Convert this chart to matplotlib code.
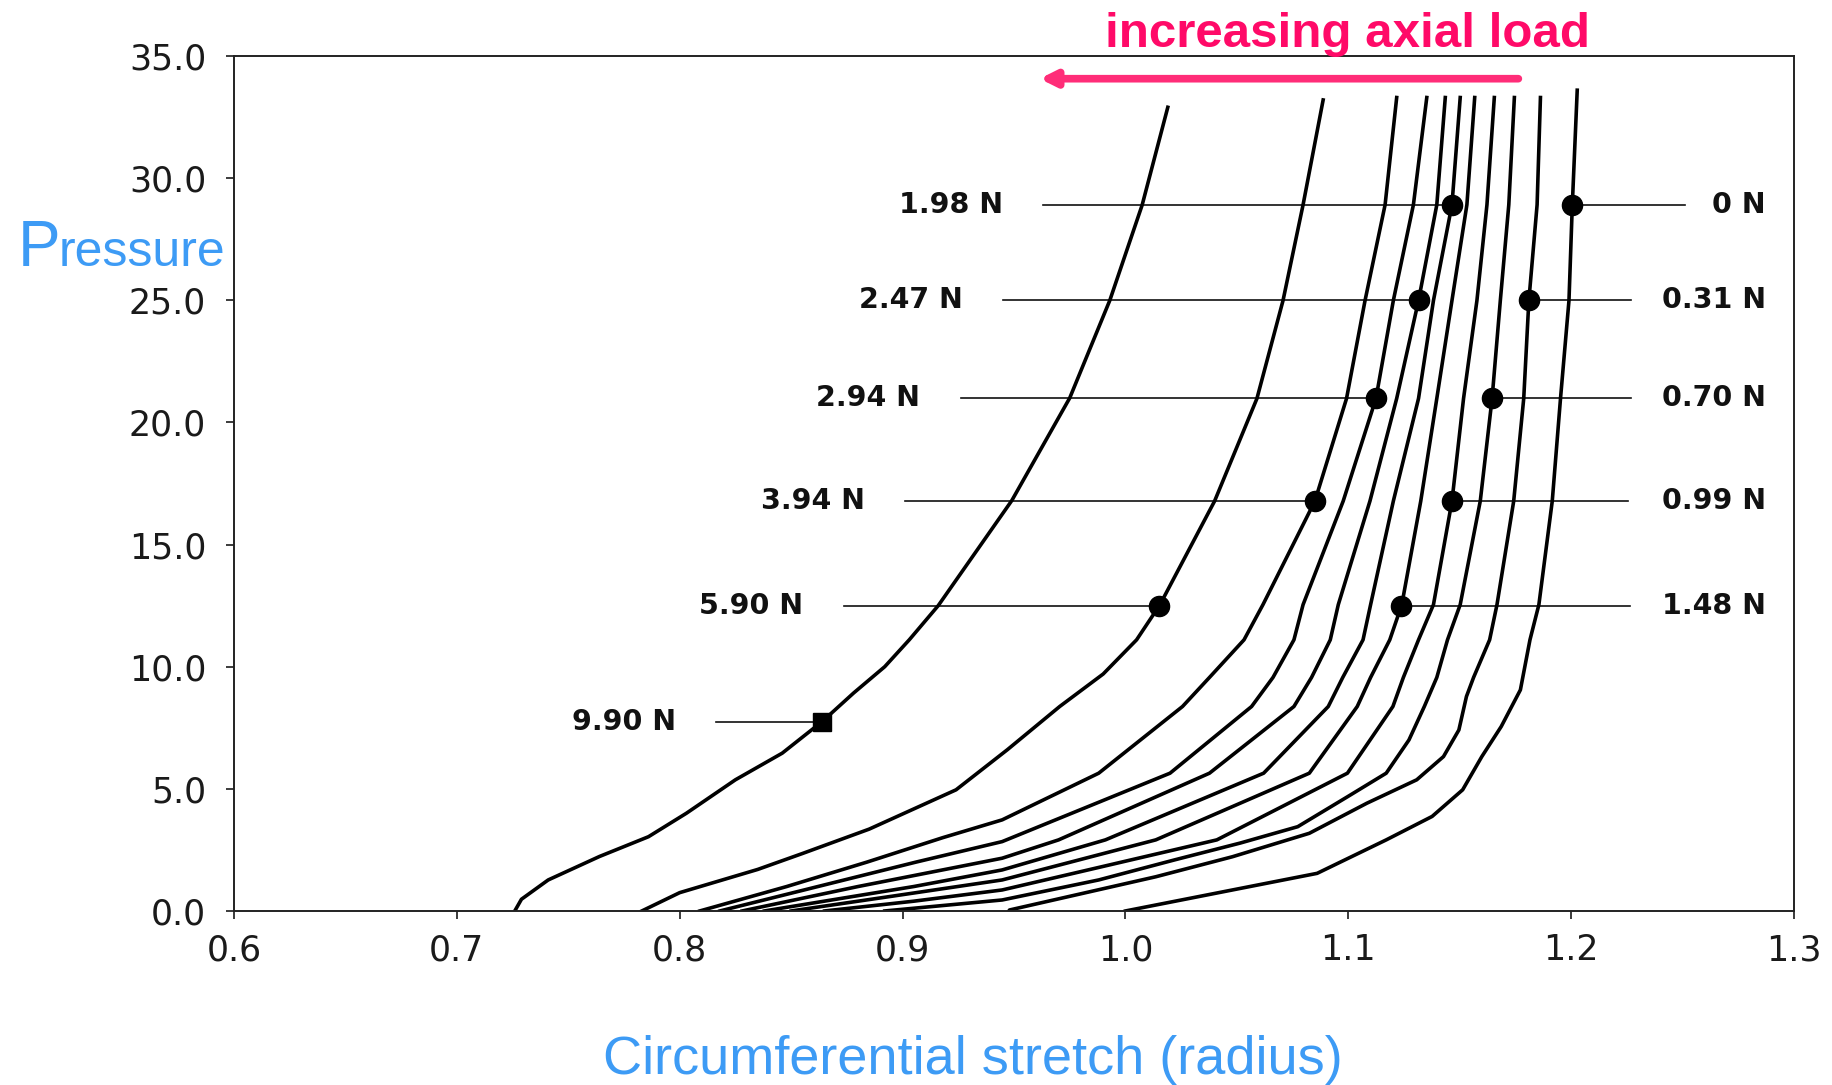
import numpy as np
import matplotlib.pyplot as plt
from matplotlib.ticker import FormatStrFormatter

# pressure / circumferential stretch curves, one per axial load
loads = ['0 N', '0.31 N', '0.70 N', '0.99 N', '1.48 N', '1.98 N',
         '2.47 N', '2.94 N', '3.94 N', '5.90 N', '9.90 N']

p_000 = [0, 0.86, 1.54, 2.91, 3.87, 4.96, 6.32, 7.55, 9.05, 11.1, 12.54, 16.78, 20.98, 24.99, 28.91, 33.6]
x_000 = [1.0, 1.048, 1.086, 1.117, 1.1376, 1.1513, 1.1599, 1.1686, 1.1772, 1.1815, 1.1855, 1.1915, 1.1952, 1.199, 1.2005, 1.2027]

p_031 = [0, 0.04, 1.40, 2.22, 3.18, 4.41, 5.37, 6.32, 7.41, 8.78, 9.56, 11.1, 12.54, 16.78, 20.98, 24.99, 28.91, 33.3]
x_031 = [0.9477, 0.948, 1.0136, 1.048, 1.0825, 1.1083, 1.1307, 1.1427, 1.1496, 1.153, 1.1562, 1.1634, 1.1667, 1.1742, 1.1787, 1.181, 1.1847, 1.1862]

p_070 = [0, 0.45, 1.27, 2.09, 2.78, 3.45, 4.68, 5.64, 7.0, 8.37, 9.56, 11.1, 12.54, 16.78, 20.98, 24.99, 28.91, 33.3]
x_070 = [0.892, 0.9447, 0.988, 1.022, 1.0515, 1.0773, 1.0997, 1.117, 1.1272, 1.1341, 1.1397, 1.1445, 1.1502, 1.1592, 1.1645, 1.1682, 1.172, 1.1745]

p_099 = [0, 0.4, 0.86, 2.91, 5.64, 8.37, 9.56, 11.1, 12.54, 16.78, 20.98, 24.99, 28.91, 33.3]
x_099 = [0.865, 0.905, 0.9447, 1.041, 1.0996, 1.120, 1.1247, 1.1315, 1.1382, 1.1465, 1.1517, 1.1577, 1.1622, 1.1655]

p_148 = [0, 0.6, 1.27, 2.91, 5.64, 8.37, 9.56, 11.1, 12.54, 16.78, 20.98, 24.99, 28.91, 33.3]
x_148 = [0.85, 0.895, 0.9447, 1.0136, 1.0825, 1.104, 1.110, 1.1186, 1.124, 1.1325, 1.1397, 1.1465, 1.1532, 1.1567]

p_198 = [0, 1, 1.68, 2.91, 5.64, 8.37, 9.56, 11.1, 12.54, 16.78, 20.98, 24.99, 28.91, 33.3]
x_198 = [0.838, 0.905, 0.9447, 0.991, 1.062, 1.091, 1.0975, 1.1066, 1.110, 1.1202, 1.1315, 1.1382, 1.1465, 1.1502]

p_247 = [0, 1, 2.16, 2.91, 5.64, 8.37, 9.56, 11.1, 12.54, 16.78, 20.98, 24.99, 28.91, 33.3]
x_247 = [0.828, 0.880, 0.9447, 0.970, 1.0377, 1.0756, 1.0835, 1.0919, 1.0955, 1.1097, 1.1217, 1.1315, 1.1397, 1.1435]

p_294 = [0, 1, 2, 2.84, 5.64, 8.37, 9.56, 11.1, 12.54, 16.78, 20.98, 24.99, 28.91, 33.3]
x_294 = [0.818, 0.862, 0.906, 0.9447, 1.020, 1.0566, 1.0662, 1.0756, 1.0797, 1.0977, 1.1124, 1.1202, 1.1292, 1.1352]

p_394 = [0, 1, 2, 3, 3.73, 5.64, 8.37, 9.56, 11.1, 12.54, 16.78, 20.98, 24.99, 28.91, 33.3]
x_394 = [0.809, 0.848, 0.884, 0.918, 0.9447, 0.988, 1.0256, 1.0377, 1.0532, 1.0617, 1.085, 1.0992, 1.1075, 1.1165, 1.1217]

p_590 = [0, 0.75, 1.7, 2.35, 3.35, 4.96, 6.6, 8.37, 9.7, 11.1, 12.54, 16.78, 20.98, 24.99, 28.91, 33.2]
x_590 = [0.783, 0.800, 0.835, 0.855, 0.885, 0.924, 0.947, 0.9705, 0.990, 1.005, 1.0155, 1.040, 1.059, 1.0707, 1.0797, 1.0887]

p_990 = [0, 0.48, 1.27, 2.23, 3.04, 4.0, 5.37, 6.46, 7.76, 8.92, 10.0, 11.1, 12.5, 16.8, 21.0, 25.0, 28.9, 32.9]
x_990 = [0.726, 0.729, 0.741, 0.764, 0.786, 0.803, 0.825, 0.846, 0.864, 0.878, 0.892, 0.903, 0.916, 0.949, 0.975, 0.993, 1.0075, 1.019]

# pressure at which each curve carries its tag
tag_pressure = [28.9, 25.0, 21.0, 16.8, 12.5, 28.9, 25.0, 21.0, 16.8, 12.5, 7.75]

curves = [(p_000, x_000), (p_031, x_031), (p_070, x_070), (p_099, x_099), (p_148, x_148),
          (p_198, x_198), (p_247, x_247), (p_294, x_294), (p_394, x_394), (p_590, x_590),
          (p_990, x_990)]

# far end of each leader line (stretch units)
leader_end = [1.251, 1.227, 1.227, 1.2256, 1.2266, 0.963, 0.945, 0.926, 0.901, 0.8735, 0.8164]

fig = plt.figure(figsize=(18.32, 10.85), dpi=100)
ax = fig.add_axes([0.1277, 0.1604, 0.9793 - 0.1277, 0.9484 - 0.1604])

for i, (p, x) in enumerate(curves):
    ax.plot(x, p, color='black', lw=2.6, solid_joinstyle='round')
    pt = tag_pressure[i]
    xm = np.interp(pt, p, x)
    ax.plot([xm, leader_end[i]], [pt, pt], color='#111111', lw=1.2, zorder=1)
    ax.plot(xm, pt, marker='s' if i == 10 else 'o', ms=13 if i == 10 else 14.5,
            color='black', zorder=3)
    if i < 5:
        ax.text(1.2874, pt, loads[i], ha='right', va='center', fontsize=20.5,
                fontweight='bold', color='#111111')
    else:
        ax.text(leader_end[i] - 0.018, pt, loads[i], ha='right', va='center', fontsize=20.5,
                fontweight='bold', color='#111111')

ax.set_xlim(0.6, 1.3)
ax.set_ylim(0, 35)
ax.set_xticks(np.arange(0.6, 1.31, 0.1))
ax.set_yticks(np.arange(0, 35.1, 5))
ax.xaxis.set_major_formatter(FormatStrFormatter('%.1f'))
ax.yaxis.set_major_formatter(FormatStrFormatter('%.1f'))
ax.tick_params(axis='both', labelsize=25, colors='#1a1a1a', length=6, width=1.2)
ax.tick_params(axis='y', pad=14)
ax.tick_params(axis='x', pad=10)
for s in ax.spines.values():
    s.set_linewidth(1.4)
    s.set_color('#222222')

# arrow and title
ax.annotate('', xy=(0.9615, 34.07), xytext=(1.1763, 34.07),
            arrowprops=dict(arrowstyle='-|>,head_length=0.9,head_width=0.45',
                            color='#ff2d78', lw=5.5, shrinkA=0, shrinkB=0),
            annotation_clip=False)
fig.text(0.603, 0.9567, 'increasing axial load', fontsize=35.5, fontweight='bold',
         color='#ff0a68', family='Liberation Sans', ha='left', va='baseline')

blue = '#3d9bf5'
fig.text(0.0096, 0.7548, 'P', fontsize=46, color=blue, family='Liberation Sans',
         ha='left', va='baseline')
fig.text(0.0096 + 0.0225, 0.7548, 'ressure', fontsize=36, color=blue, family='Liberation Sans',
         ha='left', va='baseline')
fig.text(0.531, 0.010, 'Circumferential stretch (radius)', fontsize=39, color=blue,
         family='Liberation Sans', ha='center', va='baseline')

fig.savefig('out.png', dpi=100)
